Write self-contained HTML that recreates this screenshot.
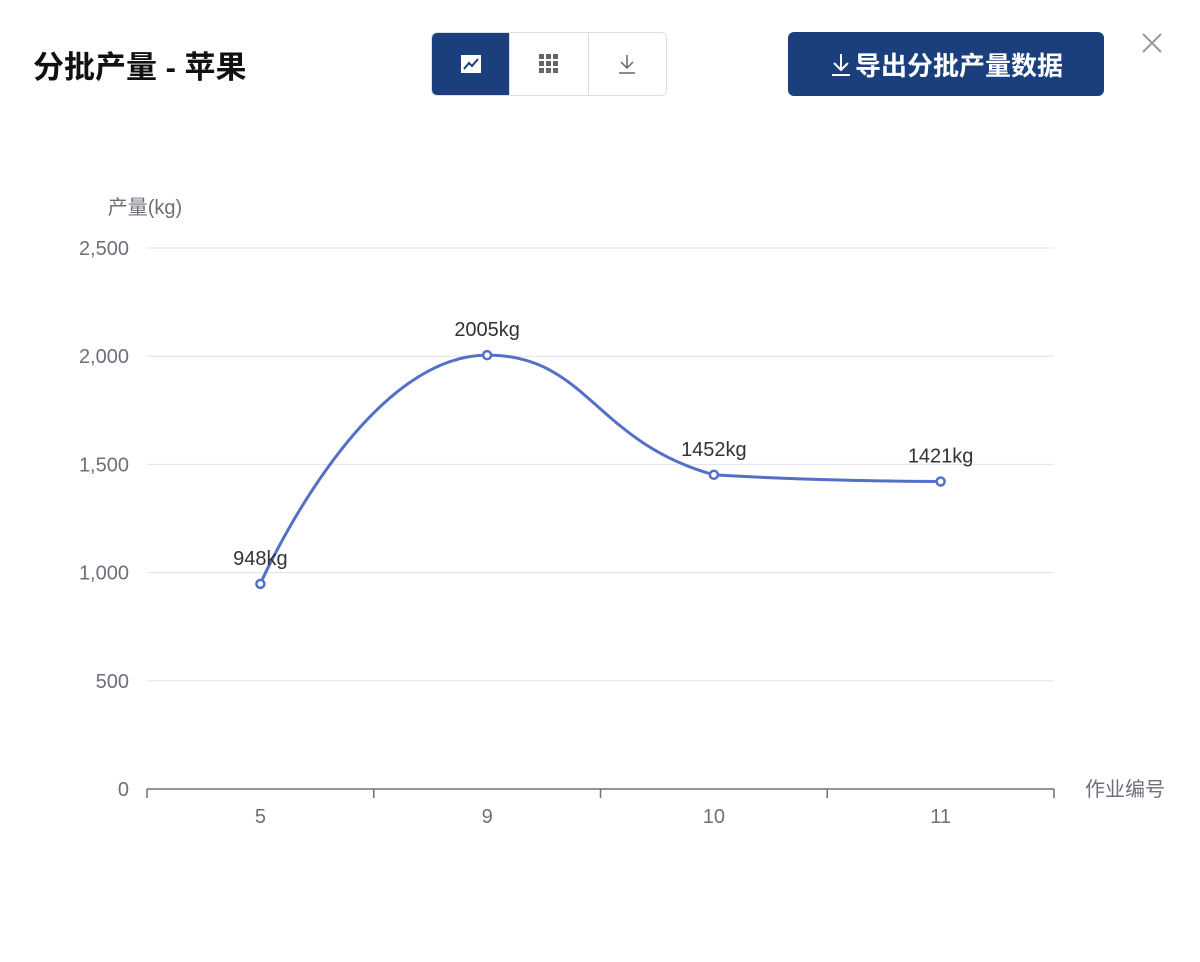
<!DOCTYPE html>
<html><head><meta charset="utf-8"><style>
body{margin:0;width:1200px;height:962px;background:#fff;overflow:hidden;font-family:"Liberation Sans","Noto Sans CJK SC",sans-serif;}
.title{position:absolute;left:33px;top:42px;font-size:31px;font-weight:bold;color:#111;font-family:"Liberation Sans","Noto Sans CJK SC",sans-serif;}
.grp{position:absolute;left:431px;top:32px;width:234px;height:62px;border:1px solid #dcdfe6;border-radius:6px;display:flex;overflow:hidden;}
.grp div{flex:1;display:flex;align-items:center;justify-content:center;border-left:1px solid #dcdfe6;}
.grp div:first-child{background:#1a3f7c;border-left:none;}
.exp{position:absolute;left:788px;top:32px;width:316px;height:64px;background:#1a3f7c;border-radius:6px;color:#fff;font-size:26px;font-weight:bold;display:flex;align-items:center;justify-content:center;}
.close{position:absolute;left:1141px;top:32px;}
</style></head><body>
<div class="title">分批产量 - 苹果</div>
<div class="grp">
<div><svg width="22" height="20"><rect x="1" y="1" width="20" height="18" fill="#fff"/><polyline points="4,15 9,9 12,12 18,5" stroke="#1a3f7c" stroke-width="2" fill="none"/></svg></div>
<div><svg width="22" height="22"><g fill="#666"><rect x="1" y="1" width="5" height="5"/><rect x="8" y="1" width="5" height="5"/><rect x="15" y="1" width="5" height="5"/><rect x="1" y="8" width="5" height="5"/><rect x="8" y="8" width="5" height="5"/><rect x="15" y="8" width="5" height="5"/><rect x="1" y="15" width="5" height="5"/><rect x="8" y="15" width="5" height="5"/><rect x="15" y="15" width="5" height="5"/></g></svg></div>
<div><svg width="22" height="22"><path d="M11 2V15M5 9L11 15L17 9M3 20H19" stroke="#666" stroke-width="1.5" fill="none"/></svg></div>
</div>
<div class="exp"><svg width="24" height="26" style="margin-right:2px"><path d="M12 3V19M5 12L12 19L19 12M3 24H21" stroke="#fff" stroke-width="2" fill="none"/></svg>导出分批产量数据</div>
<svg class="close" width="22" height="22"><path d="M2 2L20 20M20 2L2 20" stroke="#999" stroke-width="2"/></svg>
<svg id="chart" width="1200" height="962" style="position:absolute;left:0;top:0"></svg>
<script>
const categories=["5","9","10","11"];
const values=[948,2005,1452,1421];
const yTicks=[0,500,1000,1500,2000,2500];
const yTickLabels=["0","500","1,000","1,500","2,000","2,500"];
const svg=document.getElementById('chart');const NS="http://www.w3.org/2000/svg";
const x0=147,x1=1054,y0=789,y1=248,yMax=2500;
const bw=(x1-x0)/categories.length;
const X=i=>x0+bw*(i+0.5);const Y=v=>y0-(v/yMax)*(y0-y1);
function mk(t,a,txt){const e=document.createElementNS(NS,t);for(const k in a)e.setAttribute(k,a[k]);if(txt!=null)e.textContent=txt;svg.appendChild(e);return e;}
yTicks.forEach((t,i)=>{
if(t>0){const l=mk('line',{x1:x0,x2:x1,y1:Y(t),y2:Y(t),stroke:'#e0e3ee','stroke-width':1});

}
const tx=mk('text',{x:129,y:Y(t)+7,'text-anchor':'end','font-size':20,fill:'#6e7079'},yTickLabels[i]);


});
const ax=mk('line',{x1:x0,x2:x1,y1:y0,y2:y0,stroke:'#6e7079','stroke-width':1.5});


for(let i=0;i<=categories.length;i++){const tk=mk('line',{x1:x0+bw*i,x2:x0+bw*i,y1:y0,y2:y0+9,stroke:'#6e7079','stroke-width':1.5});

}
categories.forEach((c,i)=>{const t=mk('text',{x:X(i),y:823,'text-anchor':'middle','font-size':20,fill:'#6e7079'},c);

});
const yn=mk('text',{x:145,y:214,'text-anchor':'middle','font-size':20,fill:'#6e7079'},'产量(kg)');


const xn=mk('text',{x:1085,y:796,'font-size':20,fill:'#6e7079'},'作业编号');


const pts=values.map((v,i)=>[X(i),Y(v)]);
const clamp=(v,a,b)=>Math.max(Math.min(a,b),Math.min(Math.max(a,b),v));
const cps=pts.map((p,i)=>{
if(i==0||i==pts.length-1)return[p,p];
const pr=pts[i-1],nx=pts[i+1];let vx=nx[0]-pr[0],vy=nx[1]-pr[1];
if((p[1]-pr[1])*(p[1]-nx[1])>0)vy=0;
const dp=Math.hypot(p[0]-pr[0],p[1]-pr[1]),dn=Math.hypot(nx[0]-p[0],nx[1]-p[1]);
const s=0.5,rp=dp/(dp+dn),rn=dn/(dp+dn);
return[[p[0]-vx*s*rp,clamp(p[1]-vy*s*rp,p[1],pr[1])],[p[0]+vx*s*rn,clamp(p[1]+vy*s*rn,p[1],nx[1])]];});
let d=`M${pts[0][0]},${pts[0][1]}`;
for(let i=1;i<pts.length;i++){const a=cps[i-1][1],b=cps[i][0];d+=` C${a[0]},${a[1]} ${b[0]},${b[1]} ${pts[i][0]},${pts[i][1]}`;}
const ln=mk('path',{d:d,fill:'none',stroke:'#5470c6','stroke-width':3});


pts.forEach((p,i)=>{
const c=mk('circle',{cx:p[0],cy:p[1],r:4,fill:'#fff',stroke:'#5470c6','stroke-width':2.5});


const t=mk('text',{x:p[0],y:p[1]-19,'text-anchor':'middle','font-size':20,fill:'#333'},values[i]+'kg');


});
</script>
</body></html>
